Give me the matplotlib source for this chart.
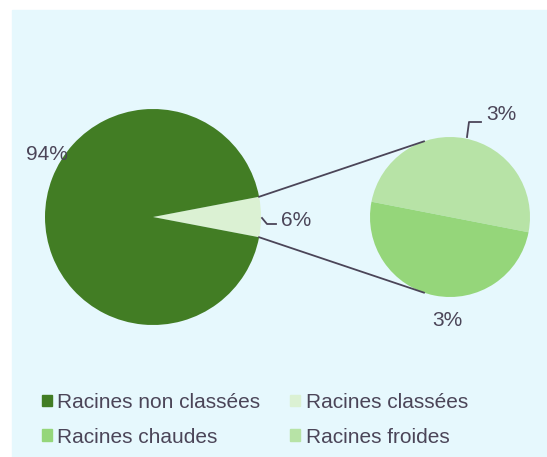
import numpy as np
import matplotlib.pyplot as plt
from matplotlib.patches import Rectangle, Patch

plt.rcParams['font.family'] = ['Liberation Sans', 'DejaVu Sans']

# data
main_labels = ["Racines non classées", "Racines classées"]
main_values = [94, 6]
sub_labels = ["Racines chaudes", "Racines froides"]
sub_values = [3, 3]

col_main = ["#427D24", "#DBF1D3"]
col_sub = ["#95D67A", "#B7E3A6"]
txt_col = "#4B4558"

W, H = 547, 457
fig = plt.figure(figsize=(W / 100, H / 100), dpi=100)
ax = fig.add_axes([0, 0, 1, 1])


def py(y):
    # pixel row (from top) -> data y
    return H - y


# panel background
ax.add_patch(Rectangle((12, 0), W - 12, H - 10, color="#E6F8FD", zorder=0))

# main pie, small slice centred on the right
c1, r1 = (153, py(217)), 108
half = main_values[1] / sum(main_values) * 180
ax.pie([main_values[1], main_values[0]], colors=[col_main[1], col_main[0]],
       startangle=-half, center=c1, radius=r1, counterclock=True,
       wedgeprops=dict(linewidth=0))

# secondary pie
c2, r2 = (450, py(217)), 80
sub_start = -11
ax.pie([sub_values[1], sub_values[0]], colors=[col_sub[1], col_sub[0]],
       startangle=sub_start, center=c2, radius=r2, counterclock=True,
       wedgeprops=dict(linewidth=0))

# connector lines
for a1, a2 in [(half, 109), (-half, -109)]:
    p1 = (c1[0] + r1 * np.cos(np.radians(a1)), c1[1] + r1 * np.sin(np.radians(a1)))
    p2 = (c2[0] + r2 * np.cos(np.radians(a2)), c2[1] + r2 * np.sin(np.radians(a2)))
    ax.plot([p1[0], p2[0]], [p1[1], p2[1]], color=txt_col, lw=1.3, zorder=3)

# leader lines
ax.plot([262, 267, 276], [py(218), py(224), py(224)], color=txt_col, lw=1.3)
ax.plot([467, 469, 481], [py(137), py(122), py(122)], color=txt_col, lw=1.3)

fs = 15
ax.text(26, py(155), f"{main_values[0]}%", fontsize=fs, color=txt_col, va="center", ha="left")
ax.text(281, py(220), f"{main_values[1]}%", fontsize=fs, color=txt_col, va="center", ha="left")
ax.text(486, py(115), f"{sub_values[1]}%", fontsize=fs, color=txt_col, va="center", ha="left")
ax.text(447, py(321), f"{sub_values[0]}%", fontsize=fs, color=txt_col, va="center", ha="center")

ax.set_xlim(0, W)
ax.set_ylim(0, H)
ax.set_aspect("auto")
ax.axis("off")

handles = [Patch(color=col_main[0]), Patch(color=col_main[1]),
           Patch(color=col_sub[0]), Patch(color=col_sub[1])]
labels = [main_labels[0], main_labels[1], sub_labels[0], sub_labels[1]]
# ncol=2 fills column-wise, reorder so rows read left to right
order = [0, 2, 1, 3]
leg = ax.legend([handles[i] for i in order], [labels[i] for i in order],
                ncol=2, loc="upper left", bbox_to_anchor=(41.5 / W, 1 - 393 / H),
                frameon=False, fontsize=fs, labelcolor=txt_col,
                handlelength=0.48, handleheight=0.48, handletextpad=0.27,
                columnspacing=1.44, labelspacing=0.75, borderpad=0, borderaxespad=0)

fig.savefig("out.png", dpi=100, facecolor="white")
